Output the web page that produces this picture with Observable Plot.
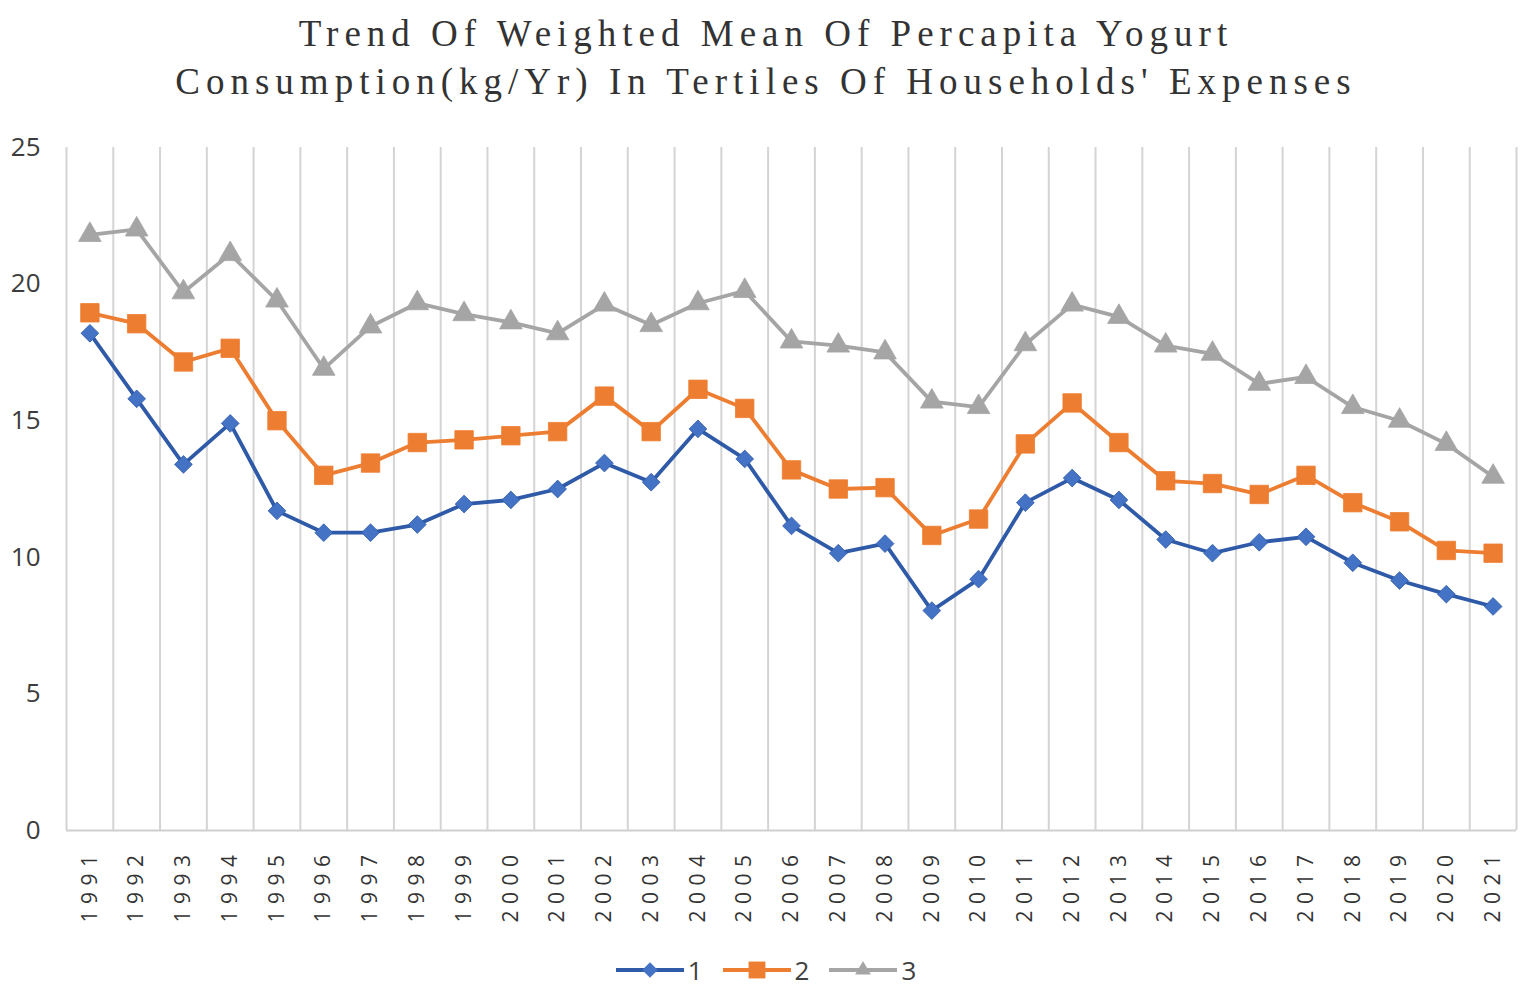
<!DOCTYPE html>
<html>
<head>
<meta charset="utf-8">
<script src="https://cdn.jsdelivr.net/npm/d3@7"></script>
<script src="https://cdn.jsdelivr.net/npm/@observablehq/plot@0.6"></script>
<style>
  html, body { margin: 0; padding: 0; background: #fff; }
  #wrap { width: 1532px; }
  #title {
    box-sizing: border-box; height: 107px; padding-top: 10px;
    text-align: center; font-family: "Liberation Serif", "DejaVu Serif", serif;
    font-size: 37px; line-height: 48px; letter-spacing: 6px; color: #333;
  }
  #legend {
    height: 60px; display: flex; justify-content: center; align-items: center;
    font-family: "Open Sans", sans-serif; font-size: 26px; color: #404040; gap: 20px;
  }
  .item { display: flex; align-items: center; gap: 4px; }
  #chart svg [aria-label="x-axis tick label"] text { letter-spacing: 6.5px; }
</style>
</head>
<body>
<div id="wrap">
  <div id="title">Trend Of Weighted Mean Of Percapita Yogurt<br>Consumption(kg/Yr) In Tertiles Of Households' Expenses</div>
  <div id="chart"></div>
  <div id="legend"></div>
</div>
<script>
const years = [1991,1992,1993,1994,1995,1996,1997,1998,1999,2000,2001,2002,2003,2004,2005,2006,2007,2008,2009,2010,2011,2012,2013,2014,2015,2016,2017,2018,2019,2020,2021];
const tertile1 = [18.2,15.8,13.4,14.9,11.7,10.9,10.9,11.2,11.95,12.1,12.5,13.45,12.75,14.7,13.6,11.15,10.15,10.5,8.05,9.2,12.0,12.9,12.1,10.65,10.15,10.55,10.75,9.8,9.15,8.65,8.2];
const tertile2 = [18.95,18.55,17.15,17.65,15.0,13.0,13.45,14.2,14.3,14.45,14.6,15.9,14.6,16.15,15.45,13.2,12.5,12.55,10.8,11.4,14.15,15.65,14.2,12.8,12.7,12.3,13.0,12.0,11.3,10.25,10.15];
const tertile3 = [21.8,22.0,19.7,21.1,19.4,16.9,18.45,19.3,18.9,18.6,18.2,19.25,18.5,19.3,19.75,17.9,17.75,17.5,15.7,15.5,17.8,19.25,18.8,17.75,17.45,16.35,16.6,15.5,15.0,14.15,12.95];
const seriesNames = ["1","2","3"];
const yTicks = [0,5,10,15,20,25];

const seriesStyle = [
  {name: "1", values: tertile1, line: "#2f5aa8", fill: "#4472c4", symbol: "diamond2", r: 8},
  {name: "2", values: tertile2, line: "#ed7d31", fill: "#ed7d31", symbol: "square", r: 10.4},
  {name: "3", values: tertile3, line: "#a5a5a5", fill: "#a5a5a5", symbol: "triangle2", r: 10.8}
];

const bounds = years.map(y => y - 0.5).concat([years[years.length - 1] + 0.5]);

const marks = [
  Plot.gridX(bounds, {stroke: "#d4d4d4", strokeOpacity: 1, strokeWidth: 2}),
  Plot.ruleY([0], {stroke: "#cfcfcf", strokeWidth: 2}),
  Plot.axisY(yTicks, {tickSize: 0, tickPadding: 26, fontSize: 26, fill: "#3c3c3c", fontFamily: "Open Sans, sans-serif", label: null}),
  Plot.axisX(years, {tickSize: 0, tickPadding: 18, tickRotate: -90, fontSize: 21, fill: "#333", fontFamily: "Open Sans, sans-serif", tickFormat: d => String(d), label: null})
];
for (const s of seriesStyle) {
  const data = years.map((y, i) => ({year: y, value: s.values[i]}));
  marks.push(Plot.line(data, {x: "year", y: "value", stroke: s.line, strokeWidth: 3.8, strokeLinejoin: "round"}));
  marks.push(Plot.dot(data, {x: "year", y: "value", symbol: s.symbol, r: s.r, fill: s.fill, stroke: s.line, strokeWidth: 0.8}));
}

const chart = Plot.plot({
  width: 1532,
  height: 833,
  marginTop: 40,
  marginBottom: 110,
  marginLeft: 66,
  marginRight: 16,
  x: {domain: [years[0] - 0.5, years[years.length - 1] + 0.5], axis: null, label: null},
  y: {domain: [0, 25], axis: null, label: null},
  style: {background: "#fff", overflow: "visible"},
  marks
});
document.getElementById("chart").appendChild(chart);

// legend
const legend = document.getElementById("legend");
const symPaths = {
  diamond2: d3.symbol(d3.symbolDiamond2, 7 * 7 * Math.PI)(),
  square: d3.symbol(d3.symbolSquare, 9.5 * 9.5 * Math.PI)(),
  triangle2: d3.symbol(d3.symbolTriangle2, 7.5 * 7.5 * Math.PI)()
};
seriesStyle.forEach((s, i) => {
  const item = document.createElement("div");
  item.className = "item";
  item.innerHTML = `<svg width="68" height="30" viewBox="0 0 68 30"><line x1="0" y1="15" x2="68" y2="15" stroke="${s.line}" stroke-width="3.8"/><path transform="translate(34,15)" d="${symPaths[s.symbol]}" fill="${s.fill}"/></svg><span>${seriesNames[i]}</span>`;
  legend.appendChild(item);
});
</script>
</body>
</html>
